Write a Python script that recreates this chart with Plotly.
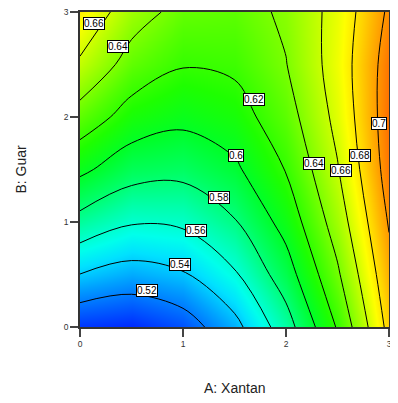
import plotly.graph_objects as go

# Factor levels (A: Xantan, B: Guar)
a_levels = [0, 0.5, 1, 1.5, 2, 2.5, 3]
b_levels = [0, 0.5, 1, 1.5, 2, 2.5, 3]

# Response, one row per B level (B = 0 ... 3)
z_b0 = [0.5030, 0.4998, 0.5100, 0.5338, 0.5710, 0.6218, 0.6860]
z_b05 = [0.5397, 0.5322, 0.5381, 0.5576, 0.5906, 0.6371, 0.6940]
z_b1 = [0.5734, 0.5616, 0.5633, 0.5785, 0.6072, 0.6494, 0.7015]
z_b15 = [0.6042, 0.5881, 0.5855, 0.5965, 0.6209, 0.6588, 0.7080]
z_b2 = [0.6320, 0.6117, 0.6048, 0.6115, 0.6316, 0.6653, 0.7100]
z_b25 = [0.6569, 0.6323, 0.6211, 0.6235, 0.6394, 0.6688, 0.7085]
z_b3 = [0.6765, 0.6485, 0.6338, 0.6320, 0.6432, 0.6672, 0.7030]
z_grid = [z_b0, z_b05, z_b1, z_b15, z_b2, z_b25, z_b3]

# Contour levels and their labels
contour_start, contour_end, contour_step = 0.52, 0.70, 0.02
label_text = ["0.66", "0.64", "0.62", "0.6", "0.58", "0.56", "0.54", "0.52",
              "0.64", "0.66", "0.68", "0.7"]
label_a = [0.14, 0.37, 1.69, 1.51, 1.35, 1.13, 0.97, 0.65, 2.275, 2.53, 2.72, 2.905]
label_b = [2.89, 2.67, 2.17, 1.63, 1.23, 0.92, 0.60, 0.35, 1.56, 1.49, 1.63, 1.94]

tick_vals = [0, 1, 2, 3]
tick_text = ["0", "1", "2", "3"]

# colour ramp (value -> colour)
zmin, zmax = 0.4996, 0.7125
ramp = [
    (0.4996, "rgb(0,40,255)"),
    (0.515, "rgb(0,100,255)"),
    (0.53, "rgb(0,160,255)"),
    (0.545, "rgb(0,225,255)"),
    (0.555, "rgb(0,255,235)"),
    (0.57, "rgb(0,255,170)"),
    (0.585, "rgb(0,255,100)"),
    (0.60, "rgb(0,255,40)"),
    (0.615, "rgb(30,255,0)"),
    (0.63, "rgb(85,255,0)"),
    (0.645, "rgb(145,255,0)"),
    (0.66, "rgb(205,255,0)"),
    (0.672, "rgb(255,255,0)"),
    (0.685, "rgb(255,210,0)"),
    (0.695, "rgb(255,170,0)"),
    (0.705, "rgb(255,130,0)"),
    (0.7125, "rgb(255,100,0)"),
]
colorscale = [[(v - zmin) / (zmax - zmin), c] for v, c in ramp]

font_family = "Arial, Liberation Sans, sans-serif"

fig = go.Figure()
fig.add_trace(go.Heatmap(
    x=a_levels, y=b_levels, z=z_grid,
    colorscale=colorscale, zmin=zmin, zmax=zmax,
    zsmooth="best", showscale=False, hoverinfo="skip",
))
fig.add_trace(go.Contour(
    x=a_levels, y=b_levels, z=z_grid,
    contours=dict(start=contour_start, end=contour_end, size=contour_step,
                  coloring="none", showlabels=False),
    line=dict(color="black", width=1, smoothing=1),
    showscale=False, hoverinfo="skip",
))

for t, a, b in zip(label_text, label_a, label_b):
    fig.add_annotation(
        x=a, y=b, xref="x", yref="y", text=t, showarrow=False,
        font=dict(family=font_family, size=10, color="black"),
        bgcolor="white", bordercolor="black", borderwidth=1, borderpad=0,
    )

# axis titles
fig.add_annotation(x=0.5, y=-0.194, xref="paper", yref="paper", text="A: Xantan",
                   showarrow=False, yanchor="middle",
                   font=dict(family=font_family, size=14, color="#222"))
fig.add_annotation(x=-0.194, y=0.5, xref="paper", yref="paper", text="B: Guar",
                   showarrow=False, textangle=-90, xanchor="center",
                   font=dict(family=font_family, size=14, color="#222"))

axis_common = dict(
    range=[0, 3], tickvals=tick_vals, ticktext=tick_text,
    ticks="outside", ticklen=8, tickwidth=1.5, tickcolor="#444",
    showgrid=False, zeroline=False, showline=True, mirror=True,
    linecolor="#333", linewidth=1.5, automargin=False,
    ticklabeloverflow="allow",
    tickfont=dict(family=font_family, size=8.5, color="#333"),
)
fig.update_xaxes(**axis_common)
fig.update_yaxes(**axis_common)

# the page body adds an 8px offset and clips at its content width,
# so the figure is sized to fit inside it
fig.update_layout(
    width=382, height=387,
    margin=dict(l=72, r=1, t=4, b=68),
    paper_bgcolor="white", plot_bgcolor="white",
    showlegend=False,
)

fig.write_html("out.html")
